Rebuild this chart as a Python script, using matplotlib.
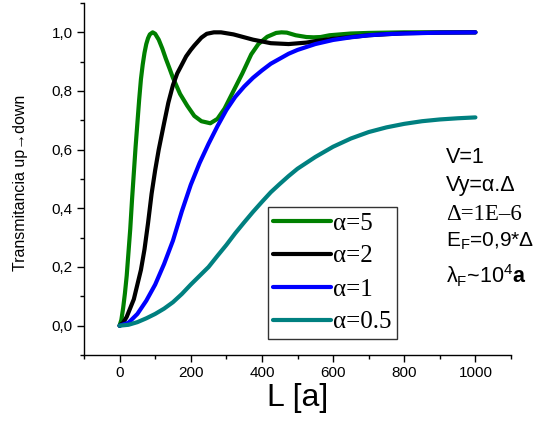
import matplotlib
matplotlib.use('Agg')
import matplotlib.pyplot as plt
from matplotlib.ticker import MultipleLocator, FuncFormatter

plt.rcParams['font.family'] = ['Liberation Sans', 'DejaVu Sans']
plt.rcParams['mathtext.fontset'] = 'custom'
plt.rcParams['mathtext.rm'] = 'Liberation Sans'
plt.rcParams['mathtext.bf'] = 'Liberation Sans:bold'
plt.rcParams['mathtext.default'] = 'regular'

# valores
L_a5 = [0, 5, 10, 15, 20, 25, 30, 35, 40, 45, 50, 55, 60, 65, 70, 75, 80, 85, 93, 100, 110,
        120, 130, 140, 150, 170, 190, 210, 230, 255, 275, 295, 320, 345, 370, 390, 415, 440,
        455, 470, 495, 525, 545, 565, 590, 620, 650, 700, 800, 900, 1000]
T_a5 = [0, 0.02, 0.06, 0.11, 0.17, 0.25, 0.33, 0.43, 0.52, 0.61, 0.69, 0.77, 0.84, 0.89,
        0.93, 0.96, 0.98, 0.993, 1.0, 0.995, 0.975, 0.945, 0.91, 0.878, 0.845, 0.79, 0.75,
        0.715, 0.697, 0.69, 0.705, 0.74, 0.80, 0.86, 0.925, 0.96, 0.985, 0.998, 1.0, 0.999,
        0.99, 0.984, 0.983, 0.984, 0.99, 0.993, 0.996, 0.998, 1.0, 1.0, 1.0]

L_a2 = [0, 10, 20, 30, 40, 50, 60, 70, 80, 90, 100, 110, 125, 137, 150, 162, 175, 187, 200,
        210, 230, 245, 265, 285, 320, 375, 425, 475, 525, 550, 600, 700, 800, 900, 1000]
T_a2 = [0, 0.01, 0.03, 0.06, 0.09, 0.14, 0.19, 0.26, 0.35, 0.45, 0.53, 0.6, 0.69, 0.76,
        0.82, 0.86, 0.89, 0.918, 0.94, 0.955, 0.982, 0.995, 1.0, 1.0, 0.993, 0.975, 0.963,
        0.96, 0.965, 0.97, 0.978, 0.99, 0.997, 0.999, 1.0]

L_a1 = [0, 25, 50, 75, 100, 125, 150, 175, 200, 225, 250, 275, 300, 325, 350, 375, 400, 425,
        450, 475, 500, 550, 600, 650, 700, 750, 800, 900, 1000]
T_a1 = [0, 0.01, 0.04, 0.085, 0.14, 0.21, 0.29, 0.39, 0.48, 0.555, 0.62, 0.68, 0.735, 0.78,
        0.815, 0.845, 0.87, 0.893, 0.91, 0.927, 0.94, 0.96, 0.974, 0.983, 0.99, 0.994, 0.996,
        0.999, 1.0]

L_a05 = [0, 25, 50, 75, 100, 125, 150, 175, 200, 225, 250, 275, 300, 325, 350, 375, 400, 425,
         450, 475, 500, 550, 600, 650, 700, 750, 800, 850, 900, 950, 1000]
T_a05 = [0, 0.003, 0.012, 0.025, 0.04, 0.058, 0.08, 0.108, 0.14, 0.17, 0.2, 0.238, 0.275,
         0.315, 0.352, 0.388, 0.422, 0.455, 0.483, 0.51, 0.535, 0.575, 0.61, 0.638, 0.66,
         0.676, 0.688, 0.697, 0.703, 0.707, 0.71]

fig = plt.figure(figsize=(5.39, 4.29), dpi=100)
ax = fig.add_axes([84/539, 1-355/429, (511-84)/539, (355-3)/429])

lw = 3
ax.plot(L_a5, T_a5, color='#008000', lw=lw, solid_capstyle='round', label='α=5')
ax.plot(L_a2, T_a2, color='black', lw=lw, solid_capstyle='round', label='α=2')
ax.plot(L_a1, T_a1, color='#0000ff', lw=lw, solid_capstyle='round', label='α=1')
ax.plot(L_a05, T_a05, color='#008080', lw=lw, solid_capstyle='round', label='α=0.5')

ax.set_xlim(-100, 1100)
ax.set_ylim(-0.1, 1.1)
ax.spines['top'].set_visible(False)
ax.spines['right'].set_visible(False)
for s in ['left', 'bottom']:
    ax.spines[s].set_linewidth(1.0)

ax.xaxis.set_major_locator(MultipleLocator(200))
ax.xaxis.set_minor_locator(MultipleLocator(100))
ax.yaxis.set_major_locator(MultipleLocator(0.2))
ax.yaxis.set_minor_locator(MultipleLocator(0.1))
ax.yaxis.set_major_formatter(FuncFormatter(lambda v, p: f'{v:.1f}'.replace('.', ',')))
ax.tick_params(which='major', direction='out', length=5, width=1, labelsize=11, pad=3)
ax.tick_params(which='minor', direction='out', length=3, width=1)

ax.set_xlabel('L [a]', fontsize=23, labelpad=2)
ax.set_ylabel('Transmitancia up→down', fontsize=11.5)
ax.yaxis.set_label_coords(-56/427, 0.49)

leg = ax.legend(loc='upper left', bbox_to_anchor=(268/539, 1-207/429),
                bbox_transform=fig.transFigure, borderaxespad=0,
                prop={'family': 'Liberation Serif', 'size': 18},
                handlelength=2.3, handletextpad=0.1, labelspacing=0.42,
                borderpad=0.2, fancybox=False, framealpha=1)
leg.get_frame().set_edgecolor('#333333')
leg.get_frame().set_linewidth(1.0)

# parametros
tx = 446/539
fig.text(tx, 1-163/429, 'V=1', fontsize=15.5, va='baseline')
fig.text(tx, 1-191/429, 'Vy=α.Δ', fontsize=15.5, va='baseline')
fig.text(tx, 1-220/429, 'Δ=1E–6', fontsize=16.5, va='baseline', family='Liberation Serif')
fig.text(tx, 1-247/429, 'E$_F$=0,9*Δ', fontsize=15, va='baseline')
fig.text(tx, 1-283/429, 'λ$_F$~10$^4$$\\mathbf{a}$', fontsize=15.5, va='baseline')

fig.savefig('out.png', dpi=100)
